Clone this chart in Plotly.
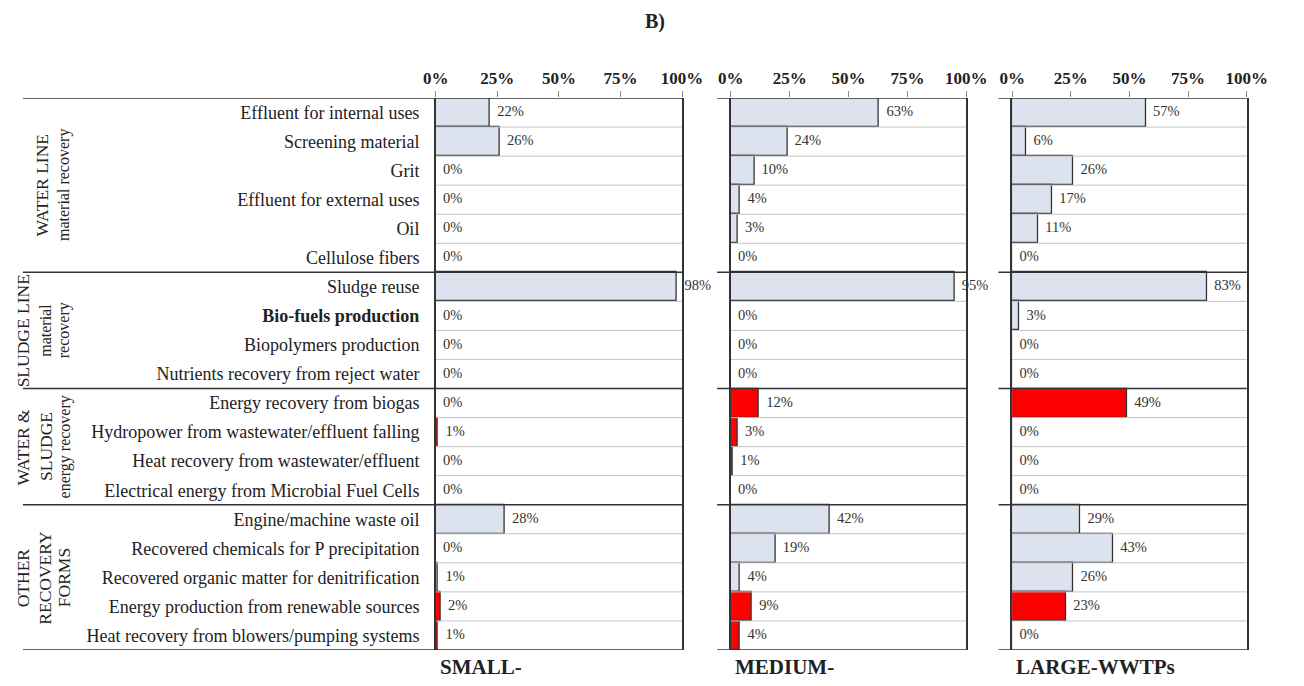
import plotly.graph_objects as go

categories = [
    "Effluent for internal uses", "Screening material", "Grit",
    "Effluent for external uses", "Oil", "Cellulose fibers",
    "Sludge reuse", "Bio-fuels production", "Biopolymers production",
    "Nutrients recovery from reject water",
    "Energy recovery from biogas", "Hydropower from wastewater/effluent falling",
    "Heat recovery from wastewater/effluent", "Electrical energy from Microbial Fuel Cells",
    "Engine/machine waste oil", "Recovered chemicals for P precipitation",
    "Recovered organic matter for denitrification",
    "Energy production from renewable sources",
    "Heat recovery from blowers/pumping systems",
]
energy_categories = [
    "Energy recovery from biogas", "Hydropower from wastewater/effluent falling",
    "Heat recovery from wastewater/effluent", "Electrical energy from Microbial Fuel Cells",
    "Energy production from renewable sources", "Heat recovery from blowers/pumping systems",
]
small = [22, 26, 0, 0, 0, 0, 98, 0, 0, 0, 0, 1, 0, 0, 28, 0, 1, 2, 1]
medium = [63, 24, 10, 4, 3, 0, 95, 0, 0, 0, 12, 3, 1, 0, 42, 19, 4, 9, 4]
large = [57, 6, 26, 17, 11, 0, 83, 3, 0, 0, 49, 0, 0, 0, 29, 43, 26, 23, 0]
panel_titles = ["SMALL-", "MEDIUM-", "LARGE-WWTPs"]
groups = [
    ("WATER LINE", "material recovery", None, 6),
    ("SLUDGE LINE", "material", "recovery", 4),
    ("WATER &", "SLUDGE", "energy recovery", 4),
    ("OTHER", "RECOVERY", "FORMS", 5),
]
tick_vals = [0, 25, 50, 75, 100]
tick_text = ["0%", "25%", "50%", "75%", "100%"]

OFF = 8                      # page body margin
W, H = 1304 - 2 * OFF, 686 - 2 * OFF
SERIF = "Liberation Serif, Times New Roman, serif"
LIGHT = "#dce3ef"
RED = "#ff0000"
DARK = "#333333"


def px(xp):
    return (xp - OFF) / W


def py(yp):
    return 1 - (yp - OFF) / H


n = len(categories)
ypos = list(range(n))
colors = [RED if c in energy_categories else LIGHT for c in categories]

panels_px = [(434, 687), (737, 979), (1026, 1267)]
y_top_px, y_bot_px = 98, 650
ydom = [py(y_bot_px), py(y_top_px)]

fig = go.Figure()
series = [small, medium, large]
for k, vals in enumerate(series):
    xa = "x" if k == 0 else f"x{k+1}"
    ya = "y" if k == 0 else f"y{k+1}"
    fig.add_trace(go.Bar(
        x=vals, y=ypos, orientation="h", width=1.0,
        marker=dict(color=colors, line=dict(color=DARK, width=1.3)),
        xaxis=xa, yaxis=ya, showlegend=False, hoverinfo="skip",
    ))
    fig.add_trace(go.Scatter(
        x=vals, y=ypos, mode="text",
        text=[f"  {v}%" for v in vals], textposition="middle right",
        textfont=dict(family=SERIF, size=14.5, color="#333333"),
        xaxis=xa, yaxis=ya, showlegend=False, hoverinfo="skip", cliponaxis=False,
    ))

layout = dict(
    width=W, height=H, margin=dict(l=0, r=0, t=0, b=0),
    paper_bgcolor="white", plot_bgcolor="white", bargap=0,
)
for k, (x0, x1) in enumerate(panels_px):
    sfx = "" if k == 0 else str(k + 1)
    layout[f"xaxis{sfx}"] = dict(
        domain=[px(x0), px(x1)], range=[0, 100], side="top",
        anchor="y" + sfx, tickvals=tick_vals, ticktext=tick_text,
        ticks="outside", ticklen=6, tickcolor="#888888", tickwidth=1,
        tickfont=dict(family=SERIF, size=17, color="#222222", weight="bold"),
        showgrid=False, zeroline=False, showline=False, fixedrange=True,
    )
    ycfg = dict(
        domain=ydom, range=[n - 0.5, -0.5], anchor="x" + sfx,
        showgrid=False, zeroline=False, showline=True, mirror=True,
        linecolor=DARK, linewidth=1.5, fixedrange=True,
    )
    if k == 0:
        ycfg.update(tickvals=ypos,
                    ticktext=[f"<b>{c}</b>" if c == "Bio-fuels production" else c for c in categories],
                    ticks="", ticklabelstandoff=11,
                    tickfont=dict(family=SERIF, size=18, color="#222222"))
    else:
        ycfg.update(showticklabels=False, ticks="")
    layout[f"yaxis{sfx}"] = ycfg
fig.update_layout(**layout)

# row separators and group boundaries
bounds = [-0.5]
acc = -0.5
for g in groups:
    acc += g[3]
    bounds.append(acc)
shapes = []
for k, (x0, x1) in enumerate(panels_px):
    sfx = "" if k == 0 else str(k + 1)
    for b in range(n - 1):
        yb = b + 0.5
        if yb in bounds:
            continue
        shapes.append(dict(type="line", xref="x" + sfx, yref="y" + sfx, x0=0, x1=100,
                           y0=yb, y1=yb, line=dict(color="#c4c4c4", width=1)))
    left = 10 if k == 0 else x0 - 14
    for yb in bounds:
        shapes.append(dict(type="line", xref="paper", yref="y" + sfx, x0=px(left), x1=px(x1),
                           y0=yb, y1=yb, line=dict(color=DARK, width=1.5)))
fig.update_layout(shapes=shapes)

annotations = []
# group labels (rotated)
row_h = (y_bot_px - y_top_px) / n
start = 0
for g in groups:
    lines = [t for t in g[:3] if t]
    cnt = g[3]
    ymid_px = y_top_px + (start + cnt / 2) * row_h
    xs = [10, 33, 53] if len(lines) == 3 else [30, 52]
    for i, t in enumerate(lines):
        size = 17.5 if t.isupper() or t == "WATER &" else 16
        annotations.append(dict(
            text=t, x=px(xs[i]), y=py(ymid_px), xref="paper", yref="paper",
            showarrow=False, textangle=-90, xanchor="center", yanchor="middle",
            font=dict(family=SERIF, size=size, color="#222222"),
        ))
    start += cnt

for k, (x0, x1) in enumerate(panels_px):
    annotations.append(dict(
        text=f"<b>{panel_titles[k]}</b>", x=px(x0 + 2), y=py(667),
        xref="paper", yref="paper", showarrow=False, xanchor="left", yanchor="middle",
        font=dict(family=SERIF, size=21, color="#222222"),
    ))
annotations.append(dict(
    text="<b>B)</b>", x=px(659), y=py(22), xref="paper", yref="paper",
    showarrow=False, xanchor="center", yanchor="middle",
    font=dict(family=SERIF, size=20, color="#222222"),
))
fig.update_layout(annotations=annotations)

fig.write_html("out.html")
